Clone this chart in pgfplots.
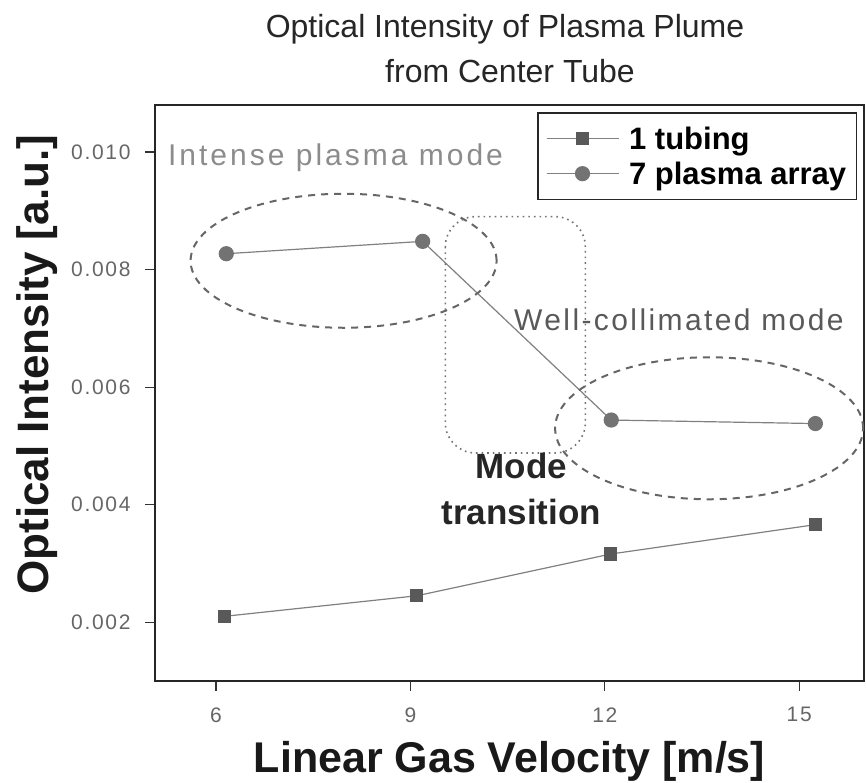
\documentclass[border=0pt]{standalone}
\usepackage{fontspec}
\setmainfont{Liberation Sans}
\usepackage{pgfplots}
\pgfplotsset{compat=1.18}
\begin{document}
\begin{tikzpicture}
\begin{axis}[
  scale only axis, width=709bp, height=576bp,
  xmin=5.06, xmax=16, ymin=0.001, ymax=0.0108,
  xtick={6,9,12,15}, ytick={0.002,0.004,0.006,0.008,0.010},
  scaled y ticks=false,
  /pgf/number format/assume math mode=true,
  y tick label style={/pgf/number format/fixed, /pgf/number format/fixed zerofill, /pgf/number format/precision=3, xshift=-11bp},
  x tick label style={yshift=-13bp},
  tick label style={font=\fontsize{21bp}{24bp}\selectfont\addfontfeatures{LetterSpace=8}, text=black!60},
  tick align=outside, major tick length=10bp, xtick pos=bottom, ytick pos=left,
  tick style={black!80, line width=1.2bp},
  axis line style={line width=1.8bp, black!85},
  clip=false,
  xlabel={Linear Gas Velocity [m/s]},
  ylabel={Optical Intensity [a.u.]},
  xlabel style={font=\bfseries\fontsize{43bp}{48bp}\selectfont, at={(axis description cs:0.5,-0.139)}, anchor=center, text=black!90},
  ylabel style={font=\bfseries\fontsize{44bp}{48bp}\selectfont, at={(axis description cs:-0.1664,0.549)}, anchor=center, text=black!90},
  legend style={at={(rel axis cs:1,1)}, anchor=north east, xshift=-7bp, yshift=-7bp, draw=black!85, line width=1.5bp,
    font=\bfseries\fontsize{31bp}{33bp}\selectfont, inner xsep=8bp, inner ysep=12bp, row sep=7bp, cells={anchor=west}},
  legend image code/.code={\draw[mark repeat=2,mark phase=2,#1] plot coordinates {(0bp,0bp) (36bp,0bp) (72bp,0bp)}; \path (80bp,0bp);},
]
\addplot[color=black!50, line width=1.2bp, mark=square*, mark size=6bp, mark options={fill=black!65, draw=black!65, solid}]
  coordinates {(6.13,0.00210) (9.10,0.00245) (12.09,0.00316) (15.25,0.00366)};
\addlegendentry{1 tubing}
\addplot[color=black!50, line width=1.2bp, mark=*, mark size=7bp, mark options={fill=black!55, draw=black!55, solid}]
  coordinates {(6.16,0.00827) (9.19,0.00848) (12.10,0.00544) (15.25,0.00538)};
\addlegendentry{7 plasma array}

\draw[black!60, line width=2bp, dash pattern=on 7bp off 6bp] (axis cs:7.97,0.00815) ellipse [x radius=153bp, y radius=67bp];
\draw[black!60, line width=2bp, dash pattern=on 7bp off 6bp] (axis cs:13.61,0.0053) ellipse [x radius=154bp, y radius=71bp];
\draw[black!55, line width=1.6bp, dash pattern=on 1.6bp off 4bp, rounded corners=30bp] (axis cs:9.54,0.0089) rectangle (axis cs:11.70,0.00488);

\node[anchor=west, text=black!45, font=\fontsize{30bp}{36bp}\selectfont\addfontfeatures{LetterSpace=10}, inner sep=0] at (axis cs:5.26,0.0099) {Intense plasma mode};
\node[anchor=west, text=black!65, font=\fontsize{30bp}{36bp}\selectfont\addfontfeatures{LetterSpace=8}, inner sep=0] at (axis cs:10.6,0.00715) {Well-collimated mode};
\node[align=center, font=\bfseries\fontsize{35bp}{46bp}\selectfont, text=black!85] at (axis cs:10.71,0.00427) {Mode\\transition};
\end{axis}
\node[font=\fontsize{32bp}{38bp}\selectfont, text=black!85] at (350bp,652bp) {Optical Intensity of Plasma Plume};
\node[font=\fontsize{32bp}{38bp}\selectfont, text=black!85] at (355bp,610bp) {from Center Tube};
\pgfresetboundingbox
\path (-155bp,-102bp) rectangle (711bp,681bp);
\end{tikzpicture}
\end{document}
